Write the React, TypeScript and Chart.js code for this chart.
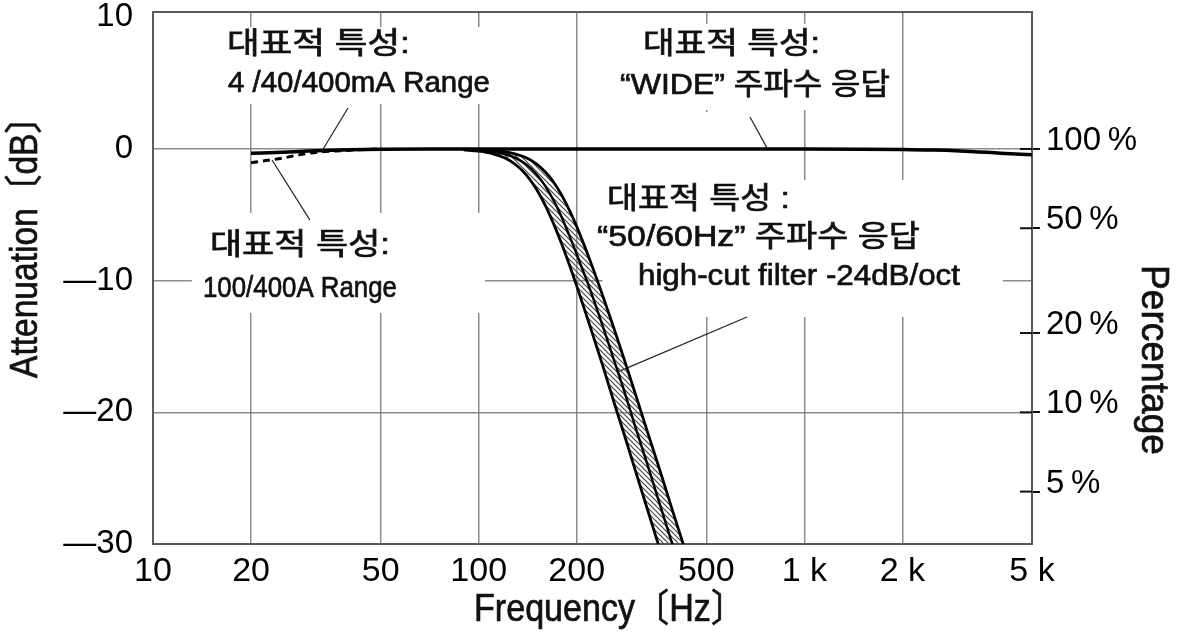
import React, { useEffect, useRef } from "react";
import { Chart, registerables } from "chart.js";

Chart.register(...registerables);

// ---------- data ----------
const xTickValues = [10, 20, 50, 100, 200, 500, 1000, 2000, 5000];
const xTickLabels = ["10", "20", "50", "100", "200", "500", "1 k", "2 k", "5 k"];
const yTickValues = [-30, -20, -10, 0, 10];
const yTickLabels = ["—30", "—20", "—10", "0", "10"];
const pctValues = [100, 50, 20, 10, 5];
const pctLabels = ["100\u2009%", "50\u2009%", "20\u2009%", "10\u2009%", "5\u2009%"];

// "WIDE" response (4/40/400mA range)
const wideFreq = [20, 25, 30, 40, 50, 70, 100, 200, 500, 1000, 1500, 2000, 2500, 3000, 4000, 5000];
const wideDb = [-0.33, -0.25, -0.16, -0.07, -0.03, 0, 0, 0, 0, 0, -0.02, -0.05, -0.08, -0.15, -0.32, -0.45];

// 100/400A range low-frequency response (dashed)
const dashFreq = [20, 22, 25, 28, 32, 40, 50];
const dashDb = [-1.05, -0.9, -0.7, -0.45, -0.25, -0.1, 0];

// 50/60Hz high-cut filter band
const filterFreq = [90, 100, 110, 120, 130, 140, 150, 160, 170, 180, 190, 200, 220, 240, 260, 280, 300, 330, 360, 400, 440];
const filterLowDb = [-0.07, -0.17, -0.35, -0.67, -1.2, -1.97, -3.01, -4.27, -5.71, -7.24, -8.82, -10.4, -13.5, -16.4, -19.2, -21.7, -24.1, -27.4, -30.4, -34, -37];
const filterMidDb = [-0.04, -0.09, -0.19, -0.38, -0.69, -1.18, -1.88, -2.8, -3.93, -5.2, -6.6, -8.0, -10.7, -13.4, -16.0, -18.4, -20.8, -24.0, -27.0, -30.6, -34];
const filterHighDb = [-0.02, -0.05, -0.1, -0.21, -0.39, -0.67, -1.11, -1.73, -2.53, -3.53, -4.67, -5.9, -8.5, -11.1, -13.6, -16.0, -18.3, -21.5, -24.4, -28.0, -31.2];

// ---------- annotations (data coordinates: frequency, dB) ----------
const FONT = '"Liberation Sans", "Noto Sans CJK KR", sans-serif';

const labelBoxes = [
  { f1: 16.3, f2: 109.8, db1: 9.26, db2: 3.42 },
  { f1: 256.7, f2: 1966, db1: 9.49, db2: 2.96 },
  { f1: 240, f2: 903, db1: 2.81, db2: -2.35 },
  { f1: 240, f2: 4071, db1: -2.35, db2: -12.76 },
  { f1: 13.17, f2: 104.5, db1: -4.86, db2: -12.45 },
];

const labelLines = [
  { text: "대표적 특성:", f: 16.87, db: 7.9, w: 183 },
  { text: "4 /40/400mA Range", f: 16.99, db: 4.94, w: 262 },
  { text: "대표적 특성:", f: 319.6, db: 7.9, w: 177 },
  { text: "“WIDE” 주파수 응답", f: 271.6, db: 4.78, w: 270 },
  { text: "대표적 특성 :", f: 247.7, db: -3.87, w: 183 },
  { text: "“50/60Hz” 주파수 응답", f: 230.8, db: -6.76, w: 323 },
  { text: "high-cut filter -24dB/oct", f: 308.4, db: -9.72, w: 322 },
  { text: "대표적 특성:", f: 14.96, db: -7.37, w: 180 },
  { text: "100/400A Range", f: 14.24, db: -10.63, w: 194 },
];

const leaders = [
  { f1: 33.3, db1: 0, f2: 39.7, db2: 3.11 },
  { f1: 23.2, db1: -0.84, f2: 30.3, db2: -5.39 },
  { f1: 680.8, db1: 2.43, f2: 767.8, db2: 0.08 },
  { f1: 666.6, db1: -12.76, f2: 267.7, db2: -16.93 },
];

const GRID = "rgba(120,120,120,0.85)";

function pts(xs: number[], ys: number[]) {
  return xs.map((x, i) => ({ x, y: ys[i] }));
}

function drawFitted(ctx: CanvasRenderingContext2D, text: string, x: number, y: number, w: number, size: number) {
  ctx.save();
  ctx.font = `${size}px ${FONT}`;
  ctx.textBaseline = "middle";
  ctx.textAlign = "left";
  const m = ctx.measureText(text).width;
  ctx.translate(x, y);
  ctx.scale(w / m, 1);
  ctx.fillText(text, 0, 0);
  ctx.lineWidth = 0.7;
  ctx.strokeStyle = ctx.fillStyle as string;
  ctx.strokeText(text, 0, 0);
  ctx.restore();
}

export default function App() {
  const ref = useRef<HTMLCanvasElement>(null);

  useEffect(() => {
    document.body.style.margin = "0";
    const canvas = ref.current!;
    const pc = document.createElement("canvas");
    pc.width = 5;
    pc.height = 5;
    const p = pc.getContext("2d")!;
    p.strokeStyle = "#4a4a4a";
    p.lineWidth = 1.2;
    p.beginPath();
    p.moveTo(-1, -1);
    p.lineTo(6, 6);
    p.moveTo(-1, 4);
    p.lineTo(1, 6);
    p.moveTo(4, -1);
    p.lineTo(6, 1);
    p.stroke();
    const pattern = canvas.getContext("2d")!.createPattern(pc, "repeat");

    const annot = {
      id: "annot",
      beforeDatasetsDraw(chart: any) {
        const ctx: CanvasRenderingContext2D = chart.ctx;
        const xs = chart.scales.x;
        const ys = chart.scales.y;
        const ca = chart.chartArea;
        ctx.save();
        ctx.fillStyle = "#fff";
        for (const b of labelBoxes) {
          const x1 = xs.getPixelForValue(b.f1);
          const x2 = xs.getPixelForValue(b.f2);
          const y1 = ys.getPixelForValue(b.db1);
          const y2 = ys.getPixelForValue(b.db2);
          ctx.fillRect(x1, y1, x2 - x1, y2 - y1);
        }
        ctx.fillStyle = "#111";
        for (const l of labelLines) {
          drawFitted(ctx, l.text, xs.getPixelForValue(l.f), ys.getPixelForValue(l.db), l.w, 30);
        }
        ctx.strokeStyle = "#222";
        ctx.lineWidth = 1.2;
        for (const l of leaders) {
          ctx.beginPath();
          ctx.moveTo(xs.getPixelForValue(l.f1), ys.getPixelForValue(l.db1));
          ctx.lineTo(xs.getPixelForValue(l.f2), ys.getPixelForValue(l.db2));
          ctx.stroke();
        }
        // frame
        ctx.strokeStyle = "#5a5a5a";
        ctx.lineWidth = 2;
        ctx.strokeRect(ca.left, ca.top, ca.right - ca.left, ca.bottom - ca.top);
        // inner part of right-axis ticks
        const yr = chart.scales.yR;
        ctx.strokeStyle = "#111";
        ctx.lineWidth = 2;
        for (const t of yr.ticks) {
          const py = yr.getPixelForValue(t.value);
          ctx.beginPath();
          ctx.moveTo(ca.right - 12, py);
          ctx.lineTo(ca.right, py);
          ctx.stroke();
        }
        ctx.restore();
      },
      afterDraw(chart: any) {
        const ctx: CanvasRenderingContext2D = chart.ctx;
        ctx.save();
        ctx.fillStyle = "#111";
        ctx.save();
        ctx.translate(27, 239);
        ctx.rotate(-Math.PI / 2);
        drawFitted(ctx, "Attenuation〔dB〕", -139, 0, 278, 38);
        ctx.restore();
        drawFitted(ctx, "Frequency〔Hz〕", 474, 611, 271, 38);
        ctx.save();
        ctx.translate(1152, 360);
        ctx.rotate(Math.PI / 2);
        drawFitted(ctx, "Percentage", -95, 0, 190, 38);
        ctx.restore();
        ctx.restore();
      },
    };

    const zeroPad = (s: any) => {
      s.paddingTop = 0;
      s.paddingBottom = 0;
      s.paddingLeft = 0;
      s.paddingRight = 0;
    };

    const chart = new Chart(canvas, {
      type: "line",
      data: {
        datasets: [
          { data: pts(wideFreq, wideDb), borderColor: "#000", borderWidth: 3.5, cubicInterpolationMode: "monotone", fill: false },
          { data: pts(dashFreq, dashDb), borderColor: "#000", borderWidth: 3, borderDash: [7, 5], cubicInterpolationMode: "monotone", fill: false },
          { data: pts(filterFreq, filterLowDb), borderColor: "#000", borderWidth: 2.8, cubicInterpolationMode: "monotone", fill: false },
          { data: pts(filterFreq, filterMidDb), borderColor: "#000", borderWidth: 2.5, cubicInterpolationMode: "monotone", fill: false },
          { data: pts(filterFreq, filterHighDb), borderColor: "#000", borderWidth: 2.8, cubicInterpolationMode: "monotone", fill: 2, backgroundColor: pattern as any },
        ] as any,
      },
      options: {
        animation: false,
        responsive: false,
        devicePixelRatio: 1,
        layout: { padding: { top: 12, left: 0, right: 0, bottom: 0 } },
        elements: { point: { radius: 0 } },
        plugins: { legend: { display: false }, tooltip: { enabled: false } },
        scales: {
          x: {
            type: "logarithmic",
            min: 10,
            max: 5000,
            afterBuildTicks: (s: any) => {
              s.ticks = xTickValues.map((v) => ({ value: v }));
            },
            afterFit: (s: any) => {
              s.height = 88;
              zeroPad(s);
            },
            ticks: {
              autoSkip: false,
              maxRotation: 0,
              color: "#000",
              padding: 7,
              font: { family: FONT, size: 34 },
              callback: (v: any) => xTickLabels[xTickValues.indexOf(Number(v))] ?? "",
            },
            grid: { color: GRID, lineWidth: 1.5, drawTicks: false },
            border: { display: false },
          },
          y: {
            type: "linear",
            position: "left",
            min: -30,
            max: 10.4,
            afterBuildTicks: (s: any) => {
              s.ticks = yTickValues.map((v) => ({ value: v }));
            },
            afterFit: (s: any) => {
              s.width = 153;
              zeroPad(s);
            },
            ticks: {
              color: "#000",
              padding: 20,
              font: { family: FONT, size: 33 },
              callback: (v: any) => yTickLabels[yTickValues.indexOf(Number(v))] ?? "",
            },
            grid: {
              color: (c: any) => (c.tick && c.tick.value === 10 ? "rgba(0,0,0,0)" : GRID),
              lineWidth: 1.5,
              drawTicks: false,
            },
            border: { display: false },
          },
          yR: {
            type: "linear",
            position: "right",
            min: -30,
            max: 10.4,
            afterBuildTicks: (s: any) => {
              s.ticks = pctValues.map((p) => ({ value: 20 * Math.log10(p / 100) }));
            },
            afterFit: (s: any) => {
              s.width = 146;
              zeroPad(s);
            },
            ticks: {
              color: "#000",
              padding: 6,
              labelOffset: -8,
              font: { family: FONT, size: 33 },
              callback: (_v: any, i: number) => pctLabels[i] ?? "",
            },
            grid: { drawOnChartArea: false, drawTicks: true, tickLength: 8, color: "#111", lineWidth: 2 },
            border: { display: false },
          },
        },
      } as any,
      plugins: [annot],
    });

    return () => chart.destroy();
  }, []);

  return (
    <div style={{ width: 1178, height: 632 }}>
      <canvas ref={ref} width={1178} height={632} style={{ display: "block", width: 1178, height: 632 }} />
    </div>
  );
}
